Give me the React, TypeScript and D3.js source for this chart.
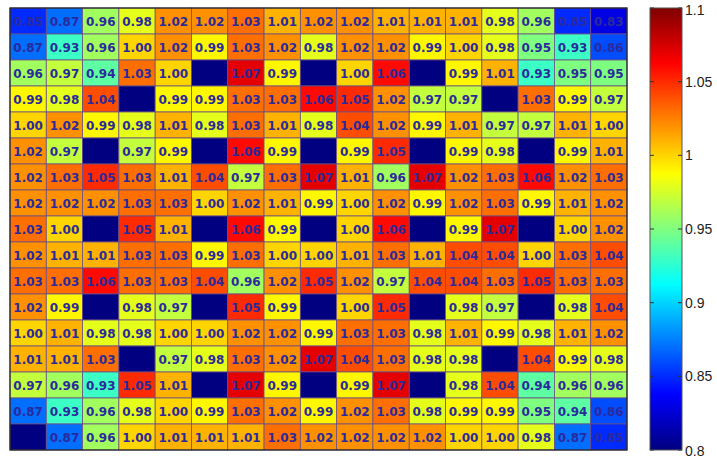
import React from "react";
import * as d3 from "d3";

// null = empty (dark) cell, no label
const row01 = [0.85, 0.87, 0.96, 0.98, 1.02, 1.02, 1.03, 1.01, 1.02, 1.02, 1.01, 1.01, 1.01, 0.98, 0.96, 0.85, 0.83];
const row02 = [0.87, 0.93, 0.96, 1.00, 1.02, 0.99, 1.03, 1.02, 0.98, 1.02, 1.02, 0.99, 1.00, 0.98, 0.95, 0.93, 0.86];
const row03 = [0.96, 0.97, 0.94, 1.03, 1.00, null, 1.07, 0.99, null, 1.00, 1.06, null, 0.99, 1.01, 0.93, 0.95, 0.95];
const row04 = [0.99, 0.98, 1.04, null, 0.99, 0.99, 1.03, 1.03, 1.06, 1.05, 1.02, 0.97, 0.97, null, 1.03, 0.99, 0.97];
const row05 = [1.00, 1.02, 0.99, 0.98, 1.01, 0.98, 1.03, 1.01, 0.98, 1.04, 1.02, 0.99, 1.01, 0.97, 0.97, 1.01, 1.00];
const row06 = [1.02, 0.97, null, 0.97, 0.99, null, 1.06, 0.99, null, 0.99, 1.05, null, 0.99, 0.98, null, 0.99, 1.01];
const row07 = [1.02, 1.03, 1.05, 1.03, 1.01, 1.04, 0.97, 1.03, 1.07, 1.01, 0.96, 1.07, 1.02, 1.03, 1.06, 1.02, 1.03];
const row08 = [1.02, 1.02, 1.02, 1.03, 1.03, 1.00, 1.02, 1.01, 0.99, 1.00, 1.02, 0.99, 1.02, 1.03, 0.99, 1.01, 1.02];
const row09 = [1.03, 1.00, null, 1.05, 1.01, null, 1.06, 0.99, null, 1.00, 1.06, null, 0.99, 1.07, null, 1.00, 1.02];
const row10 = [1.02, 1.01, 1.01, 1.03, 1.03, 0.99, 1.03, 1.00, 1.00, 1.01, 1.03, 1.01, 1.04, 1.04, 1.00, 1.03, 1.04];
const row11 = [1.03, 1.03, 1.06, 1.03, 1.03, 1.04, 0.96, 1.02, 1.05, 1.02, 0.97, 1.04, 1.04, 1.03, 1.05, 1.03, 1.03];
const row12 = [1.02, 0.99, null, 0.98, 0.97, null, 1.05, 0.99, null, 1.00, 1.05, null, 0.98, 0.97, null, 0.98, 1.04];
const row13 = [1.00, 1.01, 0.98, 0.98, 1.00, 1.00, 1.02, 1.02, 0.99, 1.03, 1.03, 0.98, 1.01, 0.99, 0.98, 1.01, 1.02];
const row14 = [1.01, 1.01, 1.03, null, 0.97, 0.98, 1.03, 1.02, 1.07, 1.04, 1.03, 0.98, 0.98, null, 1.04, 0.99, 0.98];
const row15 = [0.97, 0.96, 0.93, 1.05, 1.01, null, 1.07, 0.99, null, 0.99, 1.07, null, 0.98, 1.04, 0.94, 0.96, 0.96];
const row16 = [0.87, 0.93, 0.96, 0.98, 1.00, 0.99, 1.03, 1.02, 0.99, 1.02, 1.03, 0.98, 0.99, 0.99, 0.95, 0.94, 0.86];
const row17 = [null, 0.87, 0.96, 1.00, 1.01, 1.01, 1.01, 1.03, 1.02, 1.02, 1.02, 1.02, 1.00, 1.00, 0.98, 0.87, 0.85];

const rows = [row01, row02, row03, row04, row05, row06, row07, row08, row09, row10, row11, row12, row13, row14, row15, row16, row17];
const colorDomain = [0.8, 1.1];
const colorTicks = [0.8, 0.85, 0.9, 0.95, 1, 1.05, 1.1];
const tickLabels = ["0.8", "0.85", "0.9", "0.95", "1", "1.05", "1.1"];

function jet(t: number): string {
  const c = (v: number) => Math.max(0, Math.min(1, v));
  const r = c(Math.min(4 * t - 1.5, -4 * t + 4.5));
  const g = c(Math.min(4 * t - 0.5, -4 * t + 3.5));
  const b = c(Math.min(4 * t + 0.5, -4 * t + 2.5));
  return d3.rgb(r * 255, g * 255, b * 255).formatHex();
}

export default function App() {
  const nRows = rows.length;
  const nCols = rows[0].length;
  const x = d3.scaleBand<number>().domain(d3.range(nCols)).range([10, 627]);
  const y = d3.scaleBand<number>().domain(d3.range(nRows)).range([8, 450]);
  const color = d3.scaleSequential(jet).domain(colorDomain).clamp(true);
  const cbY = d3.scaleLinear().domain(colorDomain).range([450, 8]);
  const cbX0 = 650, cbX1 = 682;
  const stops = d3.range(0, 1.0001, 1 / 64);

  return (
    <svg width={717} height={459} style={{ position: "absolute", left: 0, top: 0, background: "#fff" }}>
      <defs>
        <linearGradient id="cb" x1="0" y1="1" x2="0" y2="0">
          {stops.map((s, i) => (
            <stop key={i} offset={s} stopColor={jet(s)} />
          ))}
        </linearGradient>
      </defs>
      {rows.map((row, r) =>
        row.map((v, c) => (
          <rect
            key={`${r}-${c}`}
            x={x(c)}
            y={y(r)}
            width={x.bandwidth()}
            height={y.bandwidth()}
            fill={v === null ? color(0.8) : color(v)}
            stroke="#6a4f86"
            strokeWidth={0.8}
          />
        ))
      )}
      {rows.map((row, r) =>
        row.map((v, c) =>
          v === null ? null : (
            <text
              key={`t${r}-${c}`}
              x={(x(c) as number) + x.bandwidth() / 2}
              y={(y(r) as number) + y.bandwidth() / 2 + 0.5}
              textAnchor="middle"
              dominantBaseline="central"
              fontFamily="'DejaVu Sans', sans-serif"
              fontWeight="bold"
              fontSize={12}
              fill="#2b2a9c"
            >
              {v.toFixed(2)}
            </text>
          )
        )
      )}
      <rect x={10} y={8} width={617} height={442} fill="none" stroke="#222" strokeWidth={1.2} />
      <rect x={cbX0} y={8} width={cbX1 - cbX0} height={442} fill="url(#cb)" stroke="#555" strokeWidth={1} />
      {colorTicks.map((t, i) => (
        <g key={i}>
          <line x1={cbX0} x2={cbX0 + 4} y1={cbY(t)} y2={cbY(t)} stroke="#333" strokeWidth={1} />
          <line x1={cbX1 - 4} x2={cbX1} y1={cbY(t)} y2={cbY(t)} stroke="#333" strokeWidth={1} />
          <text
            x={685}
            y={cbY(t) + (i === colorTicks.length - 1 ? 2 : i === 0 ? 1 : 0)}
            dominantBaseline="central"
            fontFamily="'Liberation Sans', Arial, sans-serif"
            fontSize={14}
            fill="#222"
          >
            {tickLabels[i]}
          </text>
        </g>
      ))}
    </svg>
  );
}
